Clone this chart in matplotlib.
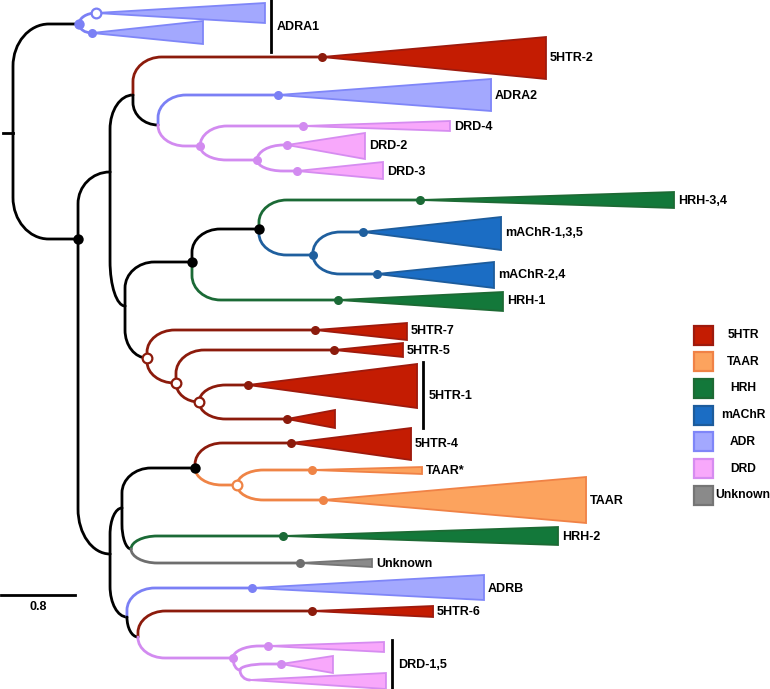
import matplotlib
matplotlib.use("Agg")
import matplotlib.pyplot as plt
from matplotlib.path import Path
from matplotlib.patches import PathPatch, Polygon, Rectangle

plt.rcParams["font.family"] = ["Liberation Sans", "DejaVu Sans"]

PX_PER_UNIT = 92.5      # 0.8 substitutions -> 74 px
SCALE_BAR = 0.8

# group -> (branch colour, triangle fill, triangle edge)
GROUP_COLORS = {
    "k": ("#000000", "#000000", "#000000"),
    "5HTR": ("#8c1b0c", "#c41c02", "#9e1a0d"),
    "TAAR": ("#ef8446", "#fca35e", "#f08246"),
    "HRH": ("#1b6a36", "#13783a", "#1d6a34"),
    "mAChR": ("#1f5f9e", "#1b6dc4", "#1d5c9c"),
    "ADR": ("#7b80f5", "#a3a8fe", "#7f86f8"),
    "DRD": ("#d28bf0", "#f8a8fb", "#d68cf0"),
    "Unknown": ("#6e6e6e", "#8a8a8a", "#757575"),
}
LEGEND_GROUPS = ["5HTR", "TAAR", "HRH", "mAChR", "ADR", "DRD", "Unknown"]

# tree nodes: depth from root (substitutions), row (vertical layout position)
NODE_NAMES = ["root", "A", "ADRA1a", "ADRA1b", "R2", "U", "P", "5HTR-2", "P2",
              "ADRA2", "Dn", "DRD-4", "Dn2", "DRD-2", "DRD-3", "Q", "H", "H1",
              "HRH-3,4", "M", "mAChR-1,3,5", "mAChR-2,4", "HRH-1", "S", "5HTR-7",
              "S2", "5HTR-5", "S3", "5HTR-1a", "5HTR-1b", "L", "L1", "T", "5HTR-4",
              "TA", "TAAR*", "TAAR", "N", "HRH-2", "Unknown", "L2", "ADRB", "L3",
              "5HTR-6", "D", "DRD-1a", "D2", "DRD-1b", "DRD-1c"]
NODE_PARENT = ["", "root", "A", "A", "root", "R2", "U", "P", "P",
               "P2", "P2", "Dn", "Dn", "Dn2", "Dn2", "U", "Q", "H",
               "H1", "H1", "M", "M", "H", "Q", "S",
               "S", "S2", "S2", "S3", "S3", "R2", "L", "L1", "T",
               "T", "TA", "TA", "L1", "N", "N", "L", "L2", "L2",
               "L3", "L3", "D", "D", "D2", "D2"]
NODE_DEPTH = [0.0, 0.714, 0.897, 0.854, 0.703, 1.049, 1.297, 3.341, 1.568,
              2.865, 2.022, 3.135, 2.638, 2.962, 3.070, 1.211, 1.935, 2.659,
              4.400, 3.243, 3.784, 3.935, 3.514, 1.449, 3.265,
              1.762, 3.470, 2.011, 2.541, 2.962, 1.049, 1.178, 1.968, 3.005,
              2.422, 3.232, 3.351, 1.276, 2.919, 3.103, 1.232, 2.584, 1.351,
              3.232, 2.378, 2.757, 2.454, 2.897, 2.562]
NODE_ROW = [133, 24, 13, 33, 239, 172, 95, 57, 125,
            95, 146, 126, 160, 145, 171, 306, 262, 229,
            200, 255, 232, 274, 300, 358, 330,
            383, 350, 402, 385, 419, 554, 508, 468, 443,
            485, 470, 500, 549, 536, 563, 617, 588, 637,
            611, 658, 646, 670, 664, 680]
NODE_EDGE = ["", "k", "ADR", "ADR", "k", "k", "k", "5HTR", "k",
             "ADR", "DRD", "DRD", "DRD", "DRD", "DRD", "k", "k", "k",
             "HRH", "mAChR", "mAChR", "mAChR", "HRH", "k", "5HTR",
             "5HTR", "5HTR", "5HTR", "5HTR", "5HTR", "k", "k", "k", "5HTR",
             "TAAR", "TAAR", "TAAR", "k", "HRH", "Unknown", "k", "ADR", "k",
             "5HTR", "DRD", "DRD", "DRD", "DRD", "DRD"]
NODE_DOT = ["", "ADR", "ADR", "ADR", "k", "", "", "5HTR", "",
            "ADR", "DRD", "DRD", "DRD", "DRD", "DRD", "", "k", "k",
            "HRH", "mAChR", "mAChR", "mAChR", "HRH", "5HTR", "5HTR",
            "5HTR", "5HTR", "5HTR", "5HTR", "5HTR", "", "", "k", "5HTR",
            "TAAR", "TAAR", "TAAR", "", "HRH", "Unknown", "", "ADR", "",
            "5HTR", "DRD", "DRD", "", "DRD", ""]
OPEN_NODES = ["ADRA1a", "S", "S2", "S3", "TA"]

# collapsed clades: apex node, depth of the base, rows spanned by the base
CLADE_NODE = ["ADRA1a", "ADRA1b", "5HTR-2", "ADRA2", "DRD-4", "DRD-2", "DRD-3",
              "HRH-3,4", "mAChR-1,3,5", "mAChR-2,4", "HRH-1", "5HTR-7", "5HTR-5",
              "5HTR-1a", "5HTR-1b", "5HTR-4", "TAAR*", "TAAR", "HRH-2", "Unknown",
              "ADRB", "5HTR-6", "DRD-1a", "DRD-1b", "DRD-1c"]
CLADE_END = [2.724, 2.054, 5.762, 5.168, 4.724, 3.805, 4.000,
             7.146, 5.276, 5.200, 5.297, 4.259, 4.216,
             4.368, 3.481, 4.303, 4.422, 6.195, 5.892, 3.881,
             5.092, 4.541, 4.011, 3.459, 4.032]
CLADE_TOP = [3, 21, 37, 79, 121, 133, 162,
             192, 217, 262, 292, 323, 343,
             364, 410, 428, 467, 477, 527, 559,
             575, 606, 642, 656, 673]
CLADE_BOTTOM = [23, 44, 79, 111, 131, 159, 179,
                208, 250, 288, 311, 340, 357,
                408, 428, 460, 474, 523, 545, 567,
                600, 617, 652, 673, 689]
CLADE_LABEL = ["", "", "5HTR-2", "ADRA2", "DRD-4", "DRD-2", "DRD-3",
               "HRH-3,4", "mAChR-1,3,5", "mAChR-2,4", "HRH-1", "5HTR-7", "5HTR-5",
               "", "", "5HTR-4", "TAAR*", "TAAR", "HRH-2", "Unknown",
               "ADRB", "5HTR-6", "", "", ""]

# labels spanning several clades
BRACKET_LABEL = ["ADRA1", "5HTR-1", "DRD-1,5"]
BRACKET_CLADES = [["ADRA1a", "ADRA1b"], ["5HTR-1a", "5HTR-1b"],
                  ["DRD-1a", "DRD-1b", "DRD-1c"]]
BRACKET_ROWS = [(0, 52), (362, 428), (640, 689)]


def px(p):
    return p / PX_PER_UNIT


node = {n: (d, r) for n, d, r in zip(NODE_NAMES, NODE_DEPTH, NODE_ROW)}

fig = plt.figure(figsize=(7.7, 6.89), dpi=100)
ax = fig.add_axes([0, 0, 1, 1])
ax.set_xlim(px(-13), px(757))
ax.set_ylim(689, 0)
ax.axis("off")

# branches: vertical from parent, rounded corner, then horizontal to child
K = 0.5523
for name, parent, grp in zip(NODE_NAMES, NODE_PARENT, NODE_EDGE):
    if not parent:
        continue
    x0, y0 = node[parent]
    x1, y1 = node[name]
    dy = y1 - y0
    s = 1 if dy > 0 else -1
    ry = min(abs(dy), 15 + 0.25 * abs(dy), 45)
    rx = min((x1 - x0) * PX_PER_UNIT, 25 + 0.1 * abs(dy), 40)
    rxu = px(rx)
    verts = [(x0, y0), (x0, y1 - s * ry),
             (x0, y1 - s * ry + s * K * ry), (x0 + rxu - K * rxu, y1), (x0 + rxu, y1),
             (x1, y1)]
    codes = [Path.MOVETO, Path.LINETO, Path.CURVE4, Path.CURVE4, Path.CURVE4, Path.LINETO]
    ax.add_patch(PathPatch(Path(verts, codes), facecolor="none",
                           edgecolor=GROUP_COLORS[grp][0], lw=2.0,
                           capstyle="round", joinstyle="round", zorder=1))

# root stub
ax.plot([px(-10), 0], [node["root"][1]] * 2, color="black", lw=2.0, zorder=1)

# collapsed clades
clade_end = {}
for cn, xe, top, bot, lab in zip(CLADE_NODE, CLADE_END, CLADE_TOP, CLADE_BOTTOM, CLADE_LABEL):
    x0, y0 = node[cn]
    grp = NODE_EDGE[NODE_NAMES.index(cn)]
    _, fill, edge = GROUP_COLORS[grp]
    ax.add_patch(Polygon([(x0, y0), (xe, top), (xe, bot)], closed=True,
                         facecolor=fill, edgecolor=edge, lw=1.3, zorder=2))
    clade_end[cn] = xe
    if lab:
        ax.text(xe + px(4), y0 + 1, lab, fontsize=9, fontweight="bold",
                ha="left", va="center", zorder=4)

for lab, members, (r0, r1) in zip(BRACKET_LABEL, BRACKET_CLADES, BRACKET_ROWS):
    xb = max(clade_end[m] for m in members) + px(6)
    ax.plot([xb, xb], [r0, r1], color="black", lw=2.0, zorder=2)
    ax.text(xb + px(6), (r0 + r1) / 2 + 1, lab, fontsize=9, fontweight="bold",
            ha="left", va="center", zorder=4)

# node markers
for name, grp in zip(NODE_NAMES, NODE_DOT):
    if not grp:
        continue
    x, y = node[name]
    col = GROUP_COLORS[grp][0]
    if name in OPEN_NODES:
        ax.plot(x, y, "o", ms=7, mfc="white", mec=col, mew=1.6, zorder=3)
    else:
        big = grp == "k" or name == "A"
        ax.plot(x, y, "o", ms=7.5 if big else 6.5, mfc=col, mec=col, mew=0, zorder=3)

# scale bar
xs = px(-12)
ax.plot([xs, xs + SCALE_BAR], [595, 595], color="black", lw=2.0)
ax.text(xs + SCALE_BAR / 2, 607, f"{SCALE_BAR}", fontsize=9, fontweight="bold",
        ha="center", va="center")

# legend
for i, grp in enumerate(LEGEND_GROUPS):
    yc = 335 + 26.7 * i
    _, fill, edge = GROUP_COLORS[grp]
    ax.add_patch(Rectangle((px(694 - 13), yc - 9.5), px(19), 19,
                           facecolor=fill, edgecolor=edge, lw=1.6, zorder=3))
    ax.text(px(743 - 13), yc, grp, fontsize=8.7, fontweight="bold",
            ha="center", va="center")

fig.savefig("out.png", dpi=100)
